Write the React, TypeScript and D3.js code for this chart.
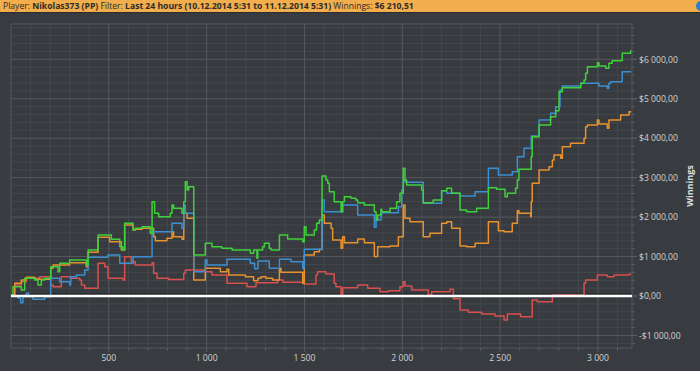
import React from "react";
import * as d3 from "d3";

const W = 700;
const H = 371;

const xTicks = [500, 1000, 1500, 2000, 2500, 3000];
const yTicks = [-1000, 0, 1000, 2000, 3000, 4000, 5000, 6000];

// [hand, winnings]
const greenSeries: [number, number][] = [
  [0, 0], [5, 25], [10, 236], [53, 152], [70, 449], [121, 406], [138, 279], [155, 406], [172, 449],
  [203, 743], [240, 616], [249, 829], [300, 913], [385, 786], [394, 1166], [445, 1546], [513, 1437],
  [556, 1250], [572, 1166], [581, 1843], [624, 1673], [635, 1716], [670, 1757], [712, 1589], [721, 2391],
  [734, 2096], [755, 2010], [814, 2096], [823, 2307], [831, 2223], [874, 2096], [883, 2391], [891, 2898],
  [900, 2687], [908, 2771], [934, 1039], [993, 1336], [1027, 1250], [1078, 1208], [1130, 1166],
  [1223, 1082], [1240, 1166], [1257, 955], [1261, 1166], [1286, 1250], [1295, 1336], [1320, 1208],
  [1329, 1166], [1372, 1546], [1414, 1445], [1491, 1377], [1499, 1757], [1508, 1546], [1550, 1673],
  [1562, 1843], [1576, 1927], [1590, 3042], [1610, 2941], [1619, 2857], [1627, 2644], [1652, 2391],
  [1687, 2137], [1695, 2391], [1704, 2517], [1738, 2477], [1763, 2434], [1772, 2365], [1806, 2307],
  [1857, 2137], [1866, 1927], [1874, 2053], [1891, 2198], [1895, 2137], [1937, 2223], [1971, 2391],
  [1988, 2603], [2005, 3237], [2014, 2941], [2022, 2814], [2074, 2814], [2099, 2687], [2107, 2365],
  [2158, 2434], [2201, 2670], [2227, 2730], [2252, 2603], [2295, 2180], [2329, 2137], [2380, 2223],
  [2440, 2746], [2482, 2705], [2525, 2517], [2537, 2603], [2579, 2730], [2588, 2941], [2596, 3212],
  [2659, 3531], [2664, 4038], [2699, 4335], [2758, 4545], [2784, 4698], [2801, 5179], [2818, 5281],
  [2912, 5392], [2929, 5476], [2937, 5645], [2946, 5813], [2997, 5914], [3005, 5831], [3040, 5772],
  [3056, 5899], [3073, 5965], [3124, 6152], [3167, 6218], [3170, 6218],
];

const blueSeries: [number, number][] = [
  [0, 0], [5, 0], [36, -59], [49, -169], [61, -17], [78, 68], [90, -17], [112, -85], [172, -17],
  [203, 449], [249, 363], [300, 279], [305, 490], [334, 532], [377, 659], [394, 980], [496, 1039],
  [556, 829], [624, 996], [721, 1630], [823, 1843], [874, 1716], [883, 2307], [891, 2096], [934, 616],
  [993, 913], [1002, 786], [1104, 930], [1223, 829], [1245, 690], [1262, 890], [1320, 702], [1372, 930],
  [1431, 870], [1491, 702], [1499, 1184], [1590, 2434], [1601, 2137], [1695, 2307], [1772, 2053],
  [1857, 1741], [1866, 1927], [1891, 2053], [1895, 2112], [1980, 2264], [1997, 2687], [2005, 2941],
  [2014, 2882], [2107, 2350], [2201, 2670], [2227, 2603], [2295, 2535], [2372, 2644], [2440, 3237],
  [2491, 3067], [2562, 3151], [2588, 3531], [2622, 3744], [2659, 4056], [2699, 4462], [2758, 4631],
  [2784, 4799], [2806, 5222], [2818, 5324], [2912, 5392], [3005, 5324], [3048, 5265], [3056, 5392],
  [3065, 5433], [3124, 5686], [3170, 5686],
];

const orangeSeries: [number, number][] = [
  [0, 0], [5, 25], [19, 322], [53, 406], [78, 474], [121, 423], [203, 702], [215, 786], [300, 844],
  [385, 743], [394, 1108], [445, 1488], [504, 1377], [564, 1166], [581, 1800], [624, 1673], [635, 1690],
  [670, 1716], [729, 1504], [738, 1403], [797, 1462], [823, 1630], [831, 1504], [874, 1437], [883, 2096],
  [900, 1970], [934, 406], [993, 702], [1070, 616], [1104, 677], [1113, 532], [1198, 490], [1240, 389],
  [1262, 449], [1278, 490], [1303, 449], [1337, 406], [1372, 702], [1380, 600], [1491, 322], [1499, 1039],
  [1550, 1123], [1576, 1180], [1590, 2053], [1601, 1843], [1636, 1716], [1644, 1420], [1687, 1209],
  [1695, 1504], [1704, 1352], [1772, 1445], [1806, 1352], [1857, 1000], [1874, 1250], [1937, 1270],
  [1980, 1504], [2005, 2307], [2014, 1970], [2039, 1884], [2107, 1504], [2141, 1589], [2201, 1843],
  [2227, 1884], [2252, 1716], [2295, 1268], [2329, 1250], [2372, 1336], [2440, 1884], [2491, 1655],
  [2520, 1630], [2562, 1843], [2588, 2163], [2596, 2096], [2656, 2010], [2659, 2391], [2664, 2857],
  [2699, 3194], [2750, 3278], [2767, 3448], [2775, 3574], [2810, 3490], [2818, 3785], [2860, 3870],
  [2929, 3998], [2937, 4292], [2946, 4335], [2997, 4462], [3005, 4360], [3048, 4251], [3056, 4462],
  [3116, 4588], [3159, 4672], [3170, 4672],
];

const redSeries: [number, number][] = [
  [0, 0], [5, 25], [19, 279], [53, 363], [78, 449], [146, 490], [203, 279], [215, 236], [257, 490],
  [308, 449], [351, 406], [360, 279], [377, 195], [445, 829], [479, 743], [496, 449], [572, 406],
  [581, 996], [615, 870], [635, 786], [721, 844], [729, 575], [746, 449], [805, 420], [874, 420],
  [883, 575], [891, 659], [993, 616], [1027, 532], [1104, 322], [1206, 236], [1252, 337], [1363, 406],
  [1389, 347], [1499, 304], [1559, 532], [1567, 616], [1610, 558], [1652, 322], [1661, 236], [1687, 25],
  [1695, 211], [1772, 279], [1823, 195], [1886, 110], [1929, 135], [1988, 236], [2005, 363], [2014, 253],
  [2048, 152], [2133, 25], [2150, 110], [2244, 169], [2261, -68], [2295, -355], [2337, -414],
  [2406, -456], [2474, -507], [2520, -608], [2537, -456], [2605, -524], [2664, -101], [2690, -144],
  [2767, 25], [2929, 322], [2937, 406], [2997, 532], [3048, 490], [3082, 532], [3159, 558], [3170, 558],
];

const seriesList = [
  { name: "red", color: "#d9504c", data: redSeries },
  { name: "orange", color: "#e8922f", data: orangeSeries },
  { name: "blue", color: "#3c8fd0", data: blueSeries },
  { name: "green", color: "#3fd13a", data: greenSeries },
];

const plot = { left: 11, right: 632, top: 24, bottom: 348 };

export default function App() {
  React.useEffect(() => {
    document.body.style.margin = "0";
  }, []);

  const x = d3.scaleLinear().domain([0, 3174]).range([plot.left, plot.right]);
  const y = d3.scaleLinear().domain([-1318, 6895]).range([plot.bottom, plot.top]);

  const line = d3
    .line<[number, number]>()
    .x((d) => x(d[0]))
    .y((d) => y(d[1]))
    .curve(d3.curveStepAfter);

  const xMinor = d3.range(100, 3174, 100);
  const yMinor = d3.range(-1200, 6895, 200);

  const font = "'Open Sans', 'DejaVu Sans', sans-serif";

  return (
    <svg
      width={W}
      height={H}
      style={{ position: "absolute", left: 0, top: 0, display: "block" }}
      fontFamily={font}
    >
      <rect x={0} y={0} width={W} height={H} fill="#383b3f" />
      {/* header */}
      <rect x={0} y={0} width={W} height={12} fill="#f2ad4c" />
      <line x1={0} x2={W} y1={12.5} y2={12.5} stroke="#2a2c2f" strokeWidth={1} />
      <text x={3} y={9} fontSize={8.6} fill="#2b2b2b">
        <tspan>Player: </tspan>
        <tspan fontWeight="bold">Nikolas373 (PP)</tspan>
        <tspan> Filter: </tspan>
        <tspan fontWeight="bold">Last 24 hours (10.12.2014 5:31 to 11.12.2014 5:31)</tspan>
        <tspan> Winnings: </tspan>
        <tspan fontWeight="bold">$6 210,51</tspan>
      </text>
      <circle cx={701} cy={6} r={5} fill="#2b7fd4" />

      {/* plot background */}
      <rect
        x={plot.left}
        y={plot.top}
        width={plot.right - plot.left}
        height={plot.bottom - plot.top}
        fill="#373a3e"
      />
      {/* minor grid */}
      {xMinor.filter((v) => v % 500 !== 0).map((v) => (
        <line key={"xm" + v} x1={x(v)} x2={x(v)} y1={plot.top} y2={plot.bottom} stroke="#44474c" strokeWidth={1} />
      ))}
      {yMinor.filter((v) => v % 1000 !== 0).map((v) => (
        <line key={"ym" + v} x1={plot.left} x2={plot.right} y1={y(v)} y2={y(v)} stroke="#44474c" strokeWidth={1} />
      ))}
      {/* major grid */}
      {xTicks.map((v) => (
        <line key={"xM" + v} x1={x(v)} x2={x(v)} y1={plot.top} y2={plot.bottom} stroke="#56595e" strokeWidth={1} />
      ))}
      {yTicks.filter((v) => v !== 0).map((v) => (
        <line key={"yM" + v} x1={plot.left} x2={plot.right} y1={y(v)} y2={y(v)} stroke="#56595e" strokeWidth={1} />
      ))}
      <rect
        x={plot.left}
        y={plot.top}
        width={plot.right - plot.left}
        height={plot.bottom - plot.top}
        fill="none"
        stroke="#55585d"
        strokeWidth={1}
      />
      {/* zero line */}
      <line x1={plot.left} x2={plot.right} y1={y(0) - 2} y2={y(0) - 2} stroke="#1e1f21" strokeWidth={1} />

      {/* series */}
      {seriesList.map((s) => (
        <path key={s.name} d={line(s.data) || ""} fill="none" stroke={s.color} strokeWidth={1.5} strokeLinejoin="round" />
      ))}
      <line x1={plot.left} x2={plot.right} y1={y(0)} y2={y(0)} stroke="#ffffff" strokeWidth={2.5} />

      {/* right axis ticks */}
      {yMinor.map((v) => (
        <line key={"yt" + v} x1={plot.right} x2={plot.right + (v % 1000 === 0 ? 5 : 3)} y1={y(v)} y2={y(v)} stroke="#5a5d62" />
      ))}
      {yTicks.map((v) => (
        <line key={"ytM" + v} x1={plot.right} x2={plot.right + 5} y1={y(v)} y2={y(v)} stroke="#5a5d62" />
      ))}
      {yTicks.map((v) => (
        <text key={"yl" + v} x={639} y={y(v) + 3.2} fontSize={8.6} fill="#d2d2d2">
          {(v < 0 ? "-$" : "$") + d3.format(",")(Math.abs(v)).replace(/,/g, " ") + ",00"}
        </text>
      ))}
      {/* bottom axis ticks */}
      {xMinor.map((v) => (
        <line key={"xt" + v} x1={x(v)} x2={x(v)} y1={plot.bottom} y2={plot.bottom + (v % 500 === 0 ? 4 : 3)} stroke="#5a5d62" />
      ))}
      {xTicks.map((v) => (
        <text key={"xl" + v} x={x(v)} y={361} fontSize={8.6} fill="#d2d2d2" textAnchor="middle">
          {d3.format(",")(v).replace(/,/g, " ")}
        </text>
      ))}
      <text
        transform={`translate(693, 186) rotate(-90)`}
        fontSize={9}
        fontWeight="bold"
        fill="#e0e0e0"
        textAnchor="middle"
      >
        Winnings
      </text>
    </svg>
  );
}
